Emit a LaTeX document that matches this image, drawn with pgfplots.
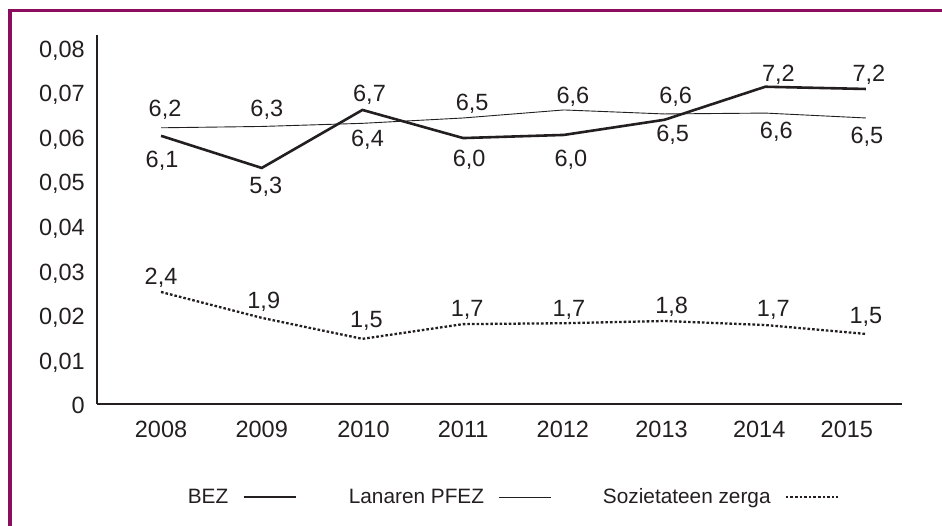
\documentclass[border=0pt]{standalone}
\usepackage{fontspec}
\setmainfont{Liberation Sans}
\usepackage{pgfplots}
\pgfplotsset{compat=1.18}
\definecolor{ink}{RGB}{35,31,32}
\definecolor{frame}{RGB}{139,14,94}
\begin{document}
\begin{tikzpicture}[lab/.style={anchor=base, yshift=-8.4pt, inner sep=0pt, font=\fontsize{23.5}{28}\selectfont, text=ink}]
\path[use as bounding box] (0,0) rectangle (942pt,526pt);
\draw[frame, line width=3.3pt] (10pt,0pt) -- (10pt,515.5pt) -- (942pt,515.5pt);
\begin{axis}[
  at={(97pt,122pt)}, anchor=south west,
  scale only axis, width=805pt, height=369pt,
  xmin=-0.636, xmax=7.358, ymin=0, ymax=0.0827,
  axis lines=left,
  axis line style={-, line width=2.6pt, ink},
  major tick length=0pt,
  scaled y ticks=false,
  clip=false,
  xtick={0,1,2.01,3,3.99,4.97,5.94,6.81},
  xticklabels={2008,2009,2010,2011,2012,2013,2014,2015},
  ytick={0,0.01,0.02,0.03,0.04,0.05,0.06,0.07,0.08},
  yticklabels={0,{0,01},{0,02},{0,03},{0,04},{0,05},{0,06},{0,07},{0,08}},
  xticklabel style={anchor=base, inner sep=0pt, yshift=-34pt, font=\fontsize{23.5}{28}\selectfont, text=ink},
  yticklabel style={anchor=base east, inner sep=0pt, xshift=-12pt, yshift=-10pt, font=\fontsize{23.5}{28}\selectfont, text=ink},
  legend plot pos=right,
  legend columns=3,
  legend image code/.code={\draw[#1] (0pt,0pt) -- (52pt,0pt);},
  legend style={at={(0.1125,-0.252)}, anchor=west, draw=none, fill=none,
    inner sep=0pt, font=\fontsize{20.8}{24}\selectfont, text=ink,
    nodes={inner sep=0pt},
    /tikz/every odd column/.append style={column sep=14pt},
    /tikz/every even column/.append style={column sep=52pt}},
]
\addplot[ink, line width=2.6pt] coordinates {
 (0,0.0601) (1,0.0529) (2,0.0659) (3,0.0596) (4,0.0603) (5,0.0637) (6,0.0711) (7,0.0706)};
\addlegendentry{BEZ}
\addplot[ink, line width=0.9pt] coordinates {
 (0,0.0619) (1,0.0622) (2,0.0629) (3,0.0641) (4,0.0659) (5,0.0650) (6,0.0652) (7,0.0641)};
\addlegendentry{Lanaren PFEZ}
\addplot[ink, line width=2.3pt, dash pattern=on 2.6pt off 2.0pt] coordinates {
 (0,0.0251) (1,0.0193) (2,0.0146) (3,0.0179) (4,0.0181) (5,0.0186) (6,0.0177) (7,0.0157)};
\addlegendentry{Sozietateen zerga}
% data labels
\node[lab] at (axis cs:0.04,0.0664) {6,2};
\node[lab] at (axis cs:0.01,0.0549) {6,1};
\node[lab] at (axis cs:1.05,0.0664) {6,3};
\node[lab] at (axis cs:1.04,0.0491) {5,3};
\node[lab] at (axis cs:2.07,0.0697) {6,7};
\node[lab] at (axis cs:2.05,0.0596) {6,4};
\node[lab] at (axis cs:3.09,0.0677) {6,5};
\node[lab] at (axis cs:3.06,0.0552) {6,0};
\node[lab] at (axis cs:4.09,0.0693) {6,6};
\node[lab] at (axis cs:4.07,0.0552) {6,0};
\node[lab] at (axis cs:5.11,0.0693) {6,6};
\node[lab] at (axis cs:5.08,0.0608) {6,5};
\node[lab] at (axis cs:6.13,0.0742) {7,2};
\node[lab] at (axis cs:6.11,0.0614) {6,6};
\node[lab] at (axis cs:7.03,0.0742) {7,2};
\node[lab] at (axis cs:7.01,0.0603) {6,5};
\node[lab] at (axis cs:0.00,0.0287) {2,4};
\node[lab] at (axis cs:1.02,0.0233) {1,9};
\node[lab] at (axis cs:2.04,0.0191) {1,5};
\node[lab] at (axis cs:3.04,0.0215) {1,7};
\node[lab] at (axis cs:4.05,0.0215) {1,7};
\node[lab] at (axis cs:5.07,0.0222) {1,8};
\node[lab] at (axis cs:6.08,0.0215) {1,7};
\node[lab] at (axis cs:7.00,0.0200) {1,5};
\end{axis}
\end{tikzpicture}
\end{document}
